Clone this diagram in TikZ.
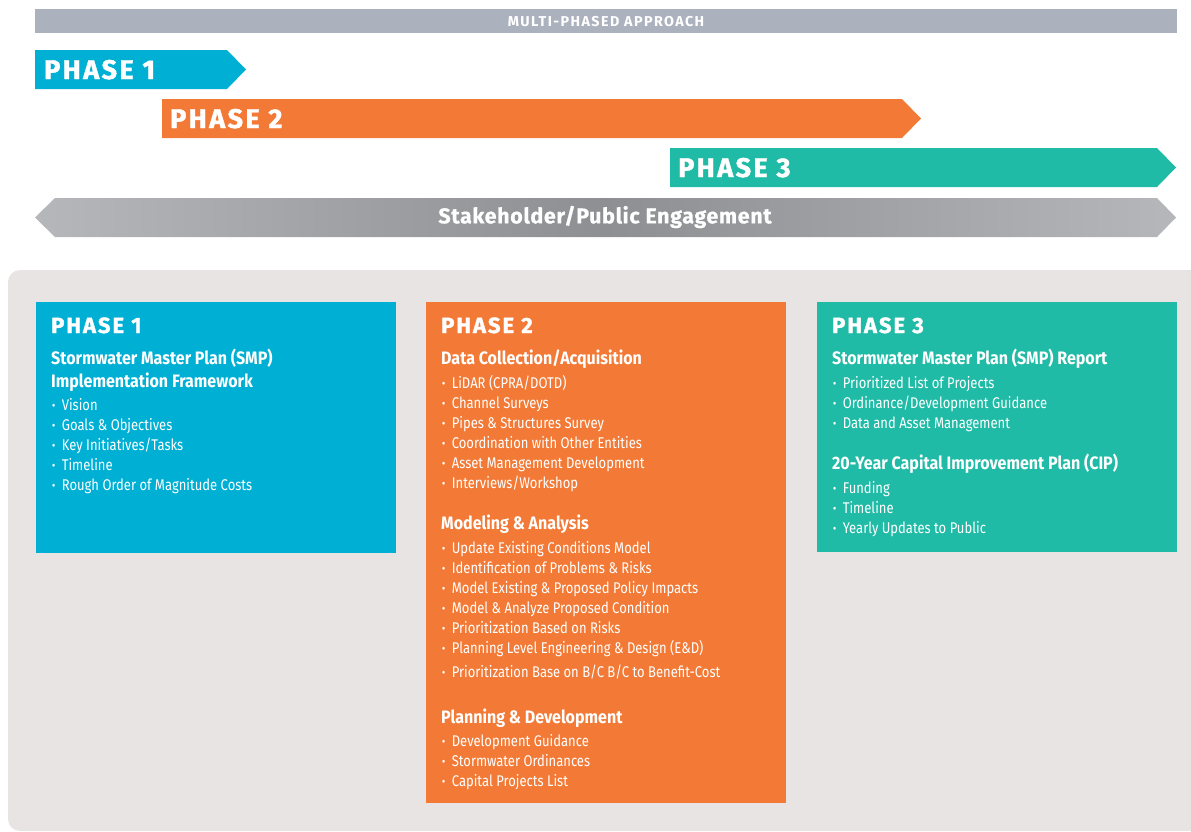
\documentclass[tikz,border=0pt]{standalone}
\usepackage{fontspec}
\setmainfont{Fira Sans}
\newfontfamily\condfont{Fira Sans}[FakeStretch=0.84]
\newfontfamily\subfont{Fira Sans}[FakeStretch=0.89]
\newfontfamily\headfont{Fira Sans}[BoldFeatures={FakeBold=1.5,LetterSpace=9}]
\newfontfamily\capsfont{Fira Sans}[BoldFeatures={LetterSpace=10}]
\newfontfamily\engfont{Fira Sans}[BoldFeatures={FakeBold=0.6,LetterSpace=3}]
\usetikzlibrary{positioning}

\definecolor{phaseone}{HTML}{00B0D4}
\definecolor{phasetwo}{HTML}{F27A36}
\definecolor{phasethree}{HTML}{20BBA6}
\definecolor{bargray}{HTML}{ABB2BE}
\definecolor{panelgray}{HTML}{E7E4E3}
\definecolor{engagelight}{HTML}{B6B7BA}
\definecolor{engagedark}{HTML}{8E8F93}

\tikzset{
	bandtext/.style={text=white, inner sep=0, anchor=base west,
		font=\headfont\bfseries\fontsize{27}{27}\selectfont},
	boxhead/.style={text=white, inner sep=0, anchor=base west,
		font=\headfont\bfseries\fontsize{22}{22}\selectfont},
	subhead/.style={text=white, inner sep=0, anchor=base west,
		font=\subfont\bfseries\fontsize{18}{18}\selectfont},
	item/.style={text=white, inner sep=0, anchor=base west,
		font=\condfont\fontsize{15.5}{15.5}\selectfont},
}
\newcommand{\bul}{\textbf{\textperiodcentered}\hspace{6.5pt}}

\begin{document}
\begin{tikzpicture}[x=1pt, y=-1pt]
	\useasboundingbox (0,0) rectangle (1191,831);
	% top title bar
	\fill[bargray] (35,9) rectangle (1177,33);
	\node[text=white, inner sep=0, font=\capsfont\bfseries\fontsize{14.3}{14.3}\selectfont]
		(approach) at (606,21.5) {MULTI-PHASED APPROACH};
	% phase bands
	\fill[phaseone] (35,50) -- (227,50) -- (246,69.5) -- (227,89) -- (35,89) -- cycle;
	\node[bandtext] (band1) at (44,79) {PHASE 1};
	\fill[phasetwo] (162,99) -- (902,99) -- (921,118.5) -- (902,138) -- (162,138) -- cycle;
	\node[bandtext] (band2) at (170,128) {PHASE 2};
	\fill[phasethree] (670,148) -- (1157,148) -- (1176,167.5) -- (1157,187) -- (670,187) -- cycle;
	\node[bandtext] (band3) at (678,177) {PHASE 3};
	% engagement double arrow
	\shade[left color=engagelight, right color=engagelight, middle color=engagedark]
		(35,217.5) -- (55,198) -- (1157,198) -- (1176,217.5) -- (1157,237) -- (55,237) -- cycle;
	\node[text=white, inner sep=0, font=\engfont\bfseries\fontsize{21.5}{21.5}\selectfont]
		(engage) at (605,217) {Stakeholder/Public Engagement};
	%
	\fill[panelgray, rounded corners=12pt] (8,270) rectangle (1215,831);
	\fill[phaseone] (36,302) rectangle (396,553);
	\fill[phasetwo] (426,302) rectangle (786,803);
	\fill[phasethree] (817,302) rectangle (1177,552);
	%
	% phase 1 box
	\node[boxhead] (p1head) at (51,333) {PHASE 1};
	\node[subhead] (p1sub) at (51,364) {Stormwater Master Plan (SMP)};
	\node[subhead] (p1subb) at (51,387) {Implementation Framework};
	\foreach \t [count=\i] in {Vision, Goals \& Objectives, Key Initiatives/Tasks,
		Timeline, Rough Order of Magnitude Costs}
		\node[item] (p1i\i) at (52,390+20*\i) {\bul\t};
	%
	% phase 2 box
	\node[boxhead] (p2head) at (441,333) {PHASE 2};
	\node[subhead] (p2suba) at (441,364) {Data Collection/Acquisition};
	\foreach \t [count=\i] in {LiDAR (CPRA/DOTD), Channel Surveys,
		Pipes \& Structures Survey, Coordination with Other Entities,
		Asset Management Development, Interviews/Workshop}
		\node[item] (p2a\i) at (442,368+20*\i) {\bul\t};
	\node[subhead] (p2subb) at (441,529) {Modeling \& Analysis};
	\foreach \t [count=\i] in {Update Existing Conditions Model,
		Identification of Problems \& Risks, Model Existing \& Proposed Policy Impacts,
		Model \& Analyze Proposed Condition, Prioritization Based on Risks,
		Planning Level Engineering \& Design (E\&D)}
		\node[item] (p2b\i) at (442,533+20*\i) {\bul\t};
	\node[item] (p2b7) at (442,677) {\bul Prioritization Base on B/C B/C to Benefit-Cost};
	\node[subhead] (p2subc) at (441,723) {Planning \& Development};
	\foreach \t [count=\i] in {Development Guidance, Stormwater Ordinances,
		Capital Projects List}
		\node[item] (p2c\i) at (442,726+20*\i) {\bul\t};
	%
	% phase 3 box
	\node[boxhead] (p3head) at (832,333) {PHASE 3};
	\node[subhead] (p3suba) at (832,364) {Stormwater Master Plan (SMP) Report};
	\foreach \t [count=\i] in {Prioritized List of Projects,
		Ordinance/Development Guidance, Data and Asset Management}
		\node[item] (p3a\i) at (833,368+20*\i) {\bul\t};
	\node[subhead] (p3subb) at (832,469) {20-Year Capital Improvement Plan (CIP)};
	\foreach \t [count=\i] in {Funding, Timeline, Yearly Updates to Public}
		\node[item] (p3b\i) at (833,473+20*\i) {\bul\t};
\end{tikzpicture}
\end{document}
